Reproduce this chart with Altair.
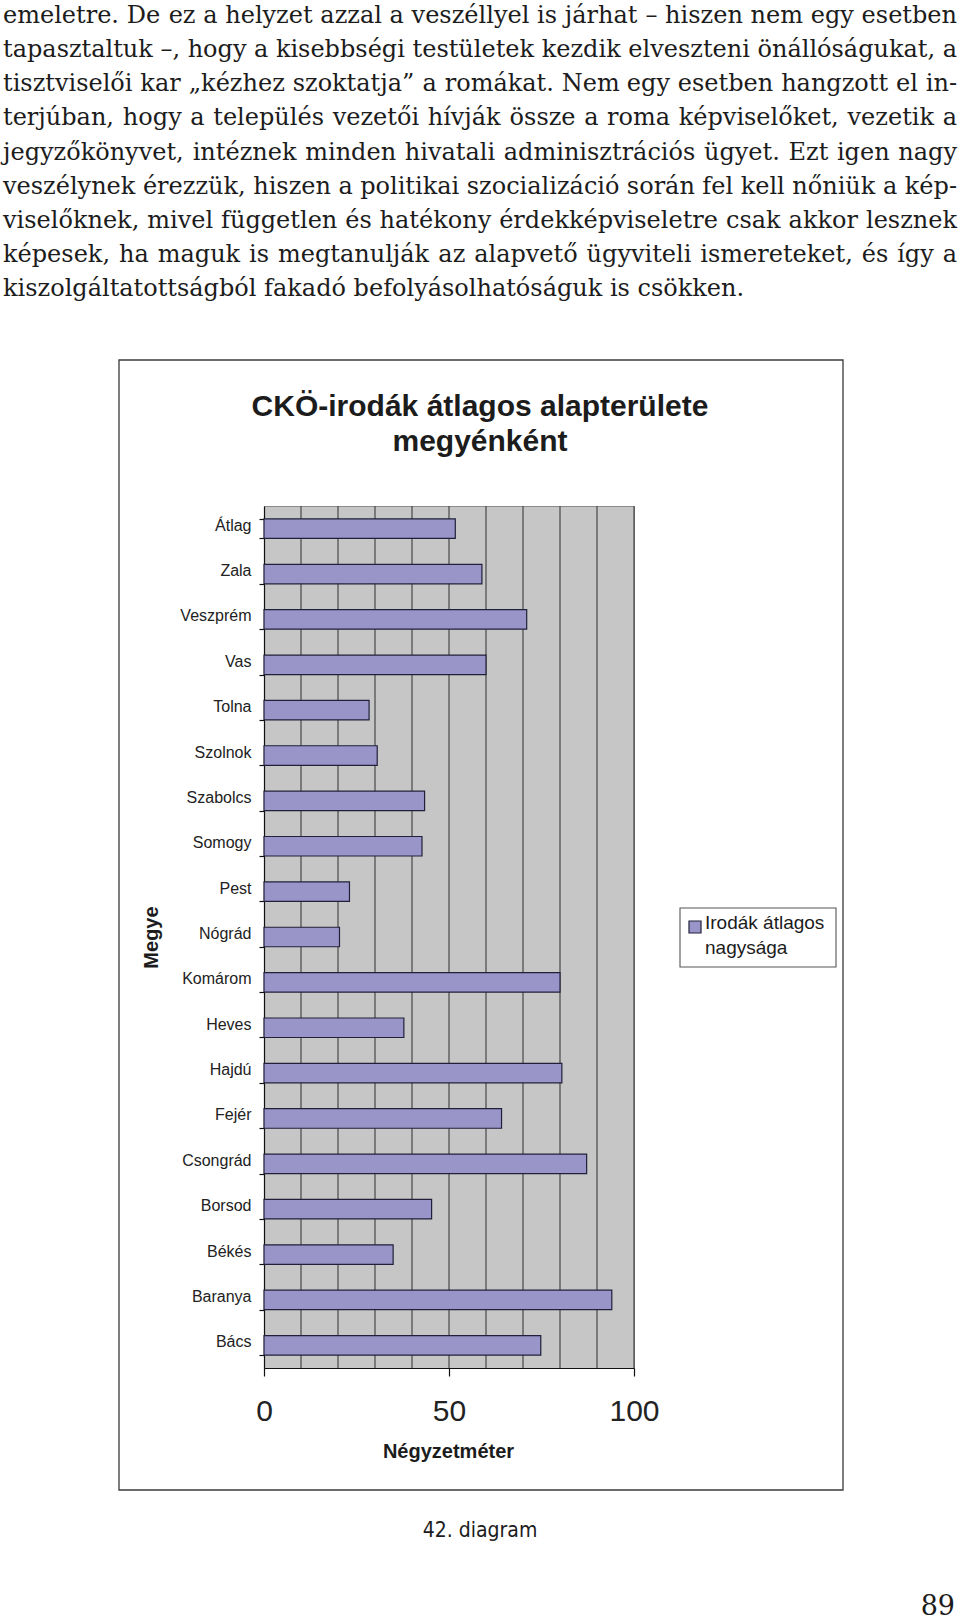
import altair as alt
import pandas as pd

# ---------------- data ----------------
counties = ["Átlag", "Zala", "Veszprém", "Vas", "Tolna", "Szolnok", "Szabolcs",
            "Somogy", "Pest", "Nógrád", "Komárom", "Heves", "Hajdú", "Fejér",
            "Csongrád", "Borsod", "Békés", "Baranya", "Bács"]
values = [51.7, 58.9, 71.0, 60.0, 28.4, 30.6, 43.4,
          42.7, 23.1, 20.4, 80.0, 37.8, 80.5, 64.2,
          87.2, 45.3, 34.9, 94.0, 74.8]
grid_values = [10, 20, 30, 40, 50, 60, 70, 80, 90, 100]
x_tick_values = [0, 50, 100]

title_lines = ["CKÖ-irodák átlagos alapterülete", "megyénként"]
legend_lines = ["Irodák átlagos", "nagysága"]
x_title = "Négyzetméter"
y_title = "Megye"
caption = "42. diagram"
page_number = "89"

body_lines = [
    "emeletre. De ez a helyzet azzal a veszéllyel is járhat – hiszen nem egy esetben",
    "tapasztaltuk –, hogy a kisebbségi testületek kezdik elveszteni önállóságukat, a",
    "tisztviselői kar „kézhez szoktatja” a romákat. Nem egy esetben hangzott el in-",
    "terjúban, hogy a település vezetői hívják össze a roma képviselőket, vezetik a",
    "jegyzőkönyvet, intéznek minden hivatali adminisztrációs ügyet. Ezt igen nagy",
    "veszélynek érezzük, hiszen a politikai szocializáció során fel kell nőniük a kép-",
    "viselőknek, mivel független és hatékony érdekképviseletre csak akkor lesznek",
    "képesek, ha maguk is megtanulják az alapvető ügyviteli ismereteket, és így a",
    "kiszolgáltatottságból fakadó befolyásolhatóságuk is csökken.",
]

# ---------------- layout ----------------
PLOT_L, PLOT_T, PLOT_R, PLOT_B = 264, 506, 634, 1368
PAGE_W, PAGE_H = 960, 1622
PW, PH = PLOT_R - PLOT_L, PLOT_B - PLOT_T

BODY_FONT = "DejaVu Serif"
BODY_FS = 24
BODY_L, BODY_R = 3, 957
BODY_BASE0, BODY_LH = 23, 34.15

# approximate DejaVu Serif advance widths (em) for justification
CHAR_W = {' ': 0.318, 'a': 0.596, 'b': 0.640, 'c': 0.560, 'd': 0.640, 'e': 0.592,
          'f': 0.371, 'g': 0.640, 'h': 0.644, 'i': 0.320, 'j': 0.320, 'k': 0.609,
          'l': 0.320, 'm': 0.948, 'n': 0.644, 'o': 0.602, 'p': 0.640, 'q': 0.640,
          'r': 0.478, 's': 0.513, 't': 0.402, 'u': 0.644, 'v': 0.565, 'w': 0.856,
          'x': 0.564, 'y': 0.565, 'z': 0.525, 'D': 0.830, 'E': 0.730, 'N': 0.838,
          '.': 0.318, ',': 0.318, '–': 0.500, '-': 0.338, '„': 0.518, '”': 0.518}
ACC = str.maketrans("áéíóöőúüű", "aeiooouuu")


def word_w(w):
    return sum(CHAR_W.get(c.translate(ACC), 0.6) for c in w) * BODY_FS


rows = []
for i, line in enumerate(body_lines):
    words = line.split(" ")
    py = BODY_BASE0 + BODY_LH * i - PLOT_T
    if i < len(body_lines) - 1:
        ws = [word_w(w) for w in words]
        gap = (BODY_R - BODY_L - sum(ws)) / (len(words) - 1)
        x = BODY_L
        for j, w in enumerate(words):
            if j == len(words) - 1:
                rows.append({"word": w, "px": BODY_R - PLOT_L, "py": py, "al": "right"})
            else:
                rows.append({"word": w, "px": x - PLOT_L, "py": py, "al": "left"})
            x += ws[j] + gap
    else:
        rows.append({"word": line, "px": BODY_L - PLOT_L, "py": py, "al": "left"})
body_df = pd.DataFrame(rows)

df = pd.DataFrame({"county": counties, "value": values})
grid_df = pd.DataFrame({"value": grid_values})
one = pd.DataFrame({"k": [0]})

BAR_FILL = "#9a95c9"
INK = "#1c1c1c"
SANS = "Liberation Sans"

xscale = alt.Scale(domain=[0, 100], nice=False, zero=True)
xaxis = alt.Axis(values=x_tick_values, grid=False, title=x_title,
                 titleFont=SANS, titleFontSize=20, titleFontWeight="bold",
                 titleColor=INK, titleX=184, titleY=89, titleAlign="center",
                 titleBaseline="alphabetic",
                 labelFont=SANS, labelFontSize=30, labelColor="#222222",
                 labelPadding=20, labelFlush=False, tickSize=8,
                 tickColor="#111111", tickWidth=1.2,
                 domainColor="#111111", domainWidth=1.2)

# ---------------- layers ----------------
frame = alt.Chart(one).mark_rect(fill="white", fillOpacity=0, stroke="#3a3a3a", strokeWidth=1.3).encode(
    x=alt.value(119 - PLOT_L), x2=alt.value(843 - PLOT_L),
    y=alt.value(360 - PLOT_T), y2=alt.value(1490 - PLOT_T))

grid = alt.Chart(grid_df).mark_rule(color="#3c3c3c", strokeWidth=1.1).encode(
    x=alt.X("value:Q", scale=xscale, axis=xaxis))

bars = alt.Chart(df).mark_bar(color=BAR_FILL, stroke="#20203a", strokeWidth=1.2).encode(
    y=alt.Y("county:N", sort=counties,
            scale=alt.Scale(paddingInner=0.57, paddingOuter=0.285),
            axis=alt.Axis(title=y_title, titleFont=SANS, titleFontSize=20, titleFontWeight="bold",
                          titleColor=INK, titleAngle=270, titleX=-113, titleY=PH / 2,
                          titleAlign="center", titleBaseline="middle",
                          labelFont=SANS, labelFontSize=16, labelColor="#222222",
                          labelPadding=8, labelOffset=-3.5, tickSize=5, tickColor="#111111",
                          tickWidth=1.2, domainColor="#111111", domainWidth=1.2,
                          tickBand="extent")),
    x=alt.X("value:Q", scale=xscale, axis=xaxis),
)

body_left = alt.Chart(body_df).transform_filter(alt.datum.al == "left").mark_text(
    align="left", baseline="alphabetic", font=BODY_FONT, fontSize=BODY_FS, color=INK).encode(
    x=alt.X("px:Q", scale=None), y=alt.Y("py:Q", scale=None), text="word:N")

body_right = alt.Chart(body_df).transform_filter(alt.datum.al == "right").mark_text(
    align="right", baseline="alphabetic", font=BODY_FONT, fontSize=BODY_FS, color=INK).encode(
    x=alt.X("px:Q", scale=None), y=alt.Y("py:Q", scale=None), text="word:N")

title_text = alt.Chart(one).mark_text(
    align="center", baseline="alphabetic", font=SANS, fontSize=30, fontWeight="bold",
    color=INK, lineHeight=35).encode(
    x=alt.value(480 - PLOT_L), y=alt.value(416 - PLOT_T), text=alt.value(title_lines))

legend_box = alt.Chart(one).mark_rect(fill="white", stroke="#555555", strokeWidth=1.1).encode(
    x=alt.value(680 - PLOT_L), x2=alt.value(836 - PLOT_L),
    y=alt.value(908 - PLOT_T), y2=alt.value(967 - PLOT_T))

legend_sym = alt.Chart(one).mark_rect(fill=BAR_FILL, stroke="#20203a", strokeWidth=1.2).encode(
    x=alt.value(689 - PLOT_L), x2=alt.value(701 - PLOT_L),
    y=alt.value(921 - PLOT_T), y2=alt.value(933 - PLOT_T))

legend_text = alt.Chart(one).mark_text(
    align="left", baseline="middle", font=SANS, fontSize=19, color=INK, lineHeight=25).encode(
    x=alt.value(705 - PLOT_L), y=alt.value(923 - PLOT_T), text=alt.value(legend_lines))

caption_text = alt.Chart(one).mark_text(
    align="center", baseline="alphabetic",
    font="Liberation Sans Narrow, DejaVu Sans Condensed, Liberation Sans",
    fontSize=21, color=INK).encode(
    x=alt.value(480 - PLOT_L), y=alt.value(1537 - PLOT_T), text=alt.value(caption))

page_text = alt.Chart(one).mark_text(
    align="right", baseline="alphabetic", font=BODY_FONT, fontSize=27, color=INK).encode(
    x=alt.value(955 - PLOT_L), y=alt.value(1615 - PLOT_T), text=alt.value(page_number))

chart = alt.layer(
    frame, grid, bars, body_left, body_right, title_text,
    legend_box, legend_sym, legend_text, caption_text, page_text
).properties(
    width=PW, height=PH,
    padding={"left": PLOT_L, "top": PLOT_T, "right": PAGE_W - PLOT_R, "bottom": PAGE_H - PLOT_B},
    autosize=alt.AutoSizeParams(type="none"),
    background="white",
).configure_view(fill="#c6c6c6", stroke="#8a8a8a", strokeWidth=1)

chart.save("out.html", embed_options={"renderer": "svg", "actions": False})
